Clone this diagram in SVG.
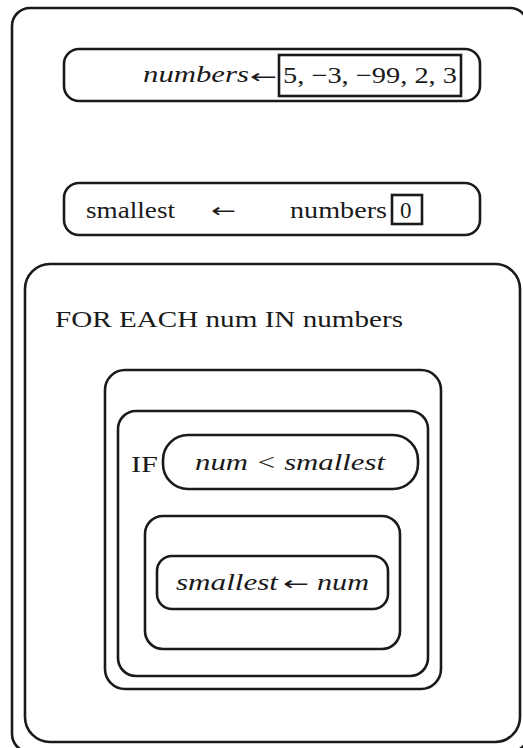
<svg xmlns="http://www.w3.org/2000/svg" width="523" height="748" viewBox="0 0 523 748">
<style>
.b{fill:none;stroke:#1a1a1a;stroke-width:2.6}
text{font-family:'Liberation Serif','DejaVu Serif','Times New Roman',serif;font-size:23px;fill:#1a1a1a}
.i{font-style:italic}
.a{font-family:'DejaVu Sans',sans-serif;font-style:normal;font-size:19px}
</style>
<rect width="523" height="748" fill="#fff"/>
<g id="program">
<rect class="b" x="12" y="8" width="516" height="744" rx="18"/>
</g>
<g id="assign-numbers">
<rect class="b" x="64" y="49" width="416" height="52" rx="15"/>
<text class="i" x="143" y="82" textLength="106" lengthAdjust="spacingAndGlyphs">numbers</text>
<text class="a" x="250" y="83" textLength="27" lengthAdjust="spacingAndGlyphs">←</text>
<rect class="b" x="279" y="55" width="182" height="41"/>
<text x="283" y="83" textLength="174" lengthAdjust="spacingAndGlyphs">5, −3, −99, 2, 3</text>
</g>
<g id="assign-smallest">
<rect class="b" x="64" y="183" width="416" height="52" rx="15"/>
<text x="86" y="218" textLength="89" lengthAdjust="spacingAndGlyphs">smallest</text>
<text class="a" x="211" y="217" textLength="25" lengthAdjust="spacingAndGlyphs">←</text>
<text x="290" y="218" textLength="97" lengthAdjust="spacingAndGlyphs">numbers</text>
<rect class="b" x="392" y="195" width="30" height="29"/>
<text x="400" y="218">0</text>
</g>
<g id="for-each">
<rect class="b" x="25" y="264" width="495" height="478" rx="25"/>
<text x="55" y="327" textLength="348" lengthAdjust="spacingAndGlyphs">FOR EACH num IN numbers</text>
</g>
<g id="loop-body">
<rect class="b" x="105" y="370" width="336" height="319" rx="20"/>
</g>
<g id="if-block">
<rect class="b" x="118" y="411" width="310" height="265" rx="18"/>
<text x="131" y="472" textLength="27" lengthAdjust="spacingAndGlyphs">IF</text>
</g>
<g id="condition">
<rect class="b" x="163" y="435" width="255" height="54" rx="25"/>
<text class="i" x="195" y="470" textLength="190" lengthAdjust="spacingAndGlyphs">num &lt; smallest</text>
</g>
<g id="then-block">
<rect class="b" x="145" y="516" width="255" height="133" rx="18"/>
</g>
<g id="assign-min">
<rect class="b" x="157" y="556" width="231" height="53" rx="15"/>
<text class="i" x="176" y="590" textLength="102" lengthAdjust="spacingAndGlyphs">smallest</text>
<text class="a" x="283" y="590" textLength="26" lengthAdjust="spacingAndGlyphs">←</text>
<text class="i" x="317" y="590" textLength="52" lengthAdjust="spacingAndGlyphs">num</text>
</g>
<g id="connectors"></g>
</svg>
